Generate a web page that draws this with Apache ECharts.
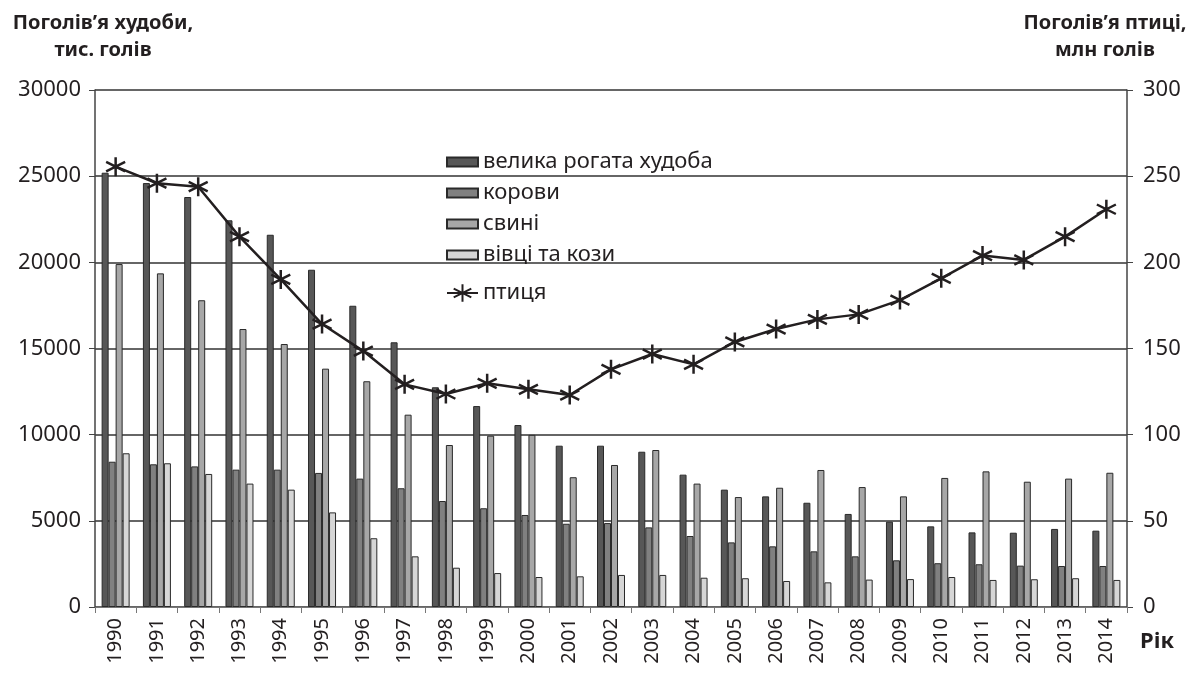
<!DOCTYPE html>
<html>
<head>
<meta charset="utf-8">
<title>Поголів'я худоби та птиці</title>
<script src="https://cdn.jsdelivr.net/npm/echarts@6/dist/echarts.min.js"></script>
<style>
  html, body { margin: 0; padding: 0; background: #fff; }
  #chart { width: 1193px; height: 675px; }
</style>
</head>
<body>
<div id="chart"></div>
<script>
// роки
const years = ['1990', '1991', '1992', '1993', '1994', '1995', '1996', '1997', '1998', '1999',
  '2000', '2001', '2002', '2003', '2004', '2005', '2006', '2007', '2008', '2009',
  '2010', '2011', '2012', '2013', '2014'];

// тис. голів
const cattle = [25200, 24600, 23790, 22440, 21600, 19570, 17480, 15360, 12750, 11660,
  10560, 9360, 9360, 9010, 7680, 6810, 6420, 6050, 5400, 4950,
  4680, 4330, 4310, 4530, 4430];
const cows = [8430, 8280, 8160, 7970, 7970, 7780, 7450, 6890, 6150, 5730,
  5340, 4830, 4870, 4620, 4120, 3750, 3520, 3230, 2940, 2710,
  2540, 2480, 2400, 2380, 2380];
const pigs = [19900, 19360, 17800, 16130, 15260, 13830, 13100, 11160, 9400, 9940,
  9990, 7530, 8240, 9110, 7160, 6380, 6920, 7950, 6960, 6420,
  7490, 7870, 7270, 7450, 7790];
const sheep = [8920, 8340, 7720, 7160, 6810, 5490, 3990, 2940, 2280, 1970,
  1740, 1780, 1860, 1860, 1700, 1670, 1510, 1430, 1590, 1620,
  1740, 1570, 1610, 1670, 1570];

// млн голів
const poultry = [255.5, 245.9, 243.9, 214.9, 190.1, 164.2, 148.5, 129.2, 123.6, 129.8,
  126.3, 123.0, 137.9, 146.8, 140.8, 153.8, 161.3, 166.9, 169.8, 178.1,
  190.7, 203.9, 201.4, 214.9, 230.8];

const leftTicks = { min: 0, max: 30000, interval: 5000 };
const rightTicks = { min: 0, max: 300, interval: 50 };

const FONT = 'Noto Sans';
const INK = '#231f20';
// зірочка як у Excel
const STAR = 'path://M10,0L10,20M1.34,5L18.66,15M1.34,15L18.66,5';

const barSeries = (name, data, color) => ({
  name,
  type: 'bar',
  data,
  barWidth: 7,
  barGap: '0%',
  itemStyle: { color, borderColor: '#2a2a2a', borderWidth: 1 },
});

const myChart = echarts.init(document.getElementById('chart'));

myChart.setOption({
  animation: false,
  textStyle: { fontFamily: FONT },
  grid: { left: 95, right: 66, top: 90, bottom: 68 },
  graphic: [
    {
      type: 'text', x: 103, y: 10,
      style: { text: 'Поголів’я худоби,\nтис. голів', font: 'bold 20px "Noto Sans"', fill: INK, lineHeight: 27, align: 'center' },
    },
    {
      type: 'text', x: 1105, y: 10,
      style: { text: 'Поголів’я птиці,\nмлн голів', font: 'bold 20px "Noto Sans"', fill: INK, lineHeight: 27, align: 'center' },
    },
    {
      type: 'text', x: 1140, y: 631,
      style: { text: 'Рік', font: 'bold 22px "Noto Sans"', fill: INK },
    },
  ],
  legend: [
    {
      orient: 'vertical',
      left: 441, top: 146,
      itemWidth: 31, itemHeight: 9, itemGap: 9,
      icon: 'rect',
      textStyle: { fontSize: 22, color: INK, fontFamily: FONT },
      data: ['велика рогата худоба', 'корови', 'свині', 'вівці та кози'],
    },
    {
      orient: 'vertical',
      left: 441, top: 277,
      itemWidth: 31, itemHeight: 22,
      textStyle: { fontSize: 22, color: INK, fontFamily: FONT },
      data: ['птиця'],
    },
  ],
  xAxis: {
    type: 'category',
    data: years,
    boundaryGap: true,
    axisLine: { lineStyle: { color: '#777', width: 1 } },
    axisTick: { show: true, length: 6, lineStyle: { color: '#777' } },
    axisLabel: { rotate: 90, fontSize: 20, color: INK, fontFamily: FONT, margin: 11, interval: 0 },
  },
  yAxis: [
    {
      type: 'value',
      ...leftTicks,
      axisLine: { show: true, lineStyle: { color: '#444', width: 1.5 } },
      axisTick: { show: true, length: 6, lineStyle: { color: '#444' } },
      axisLabel: { fontSize: 22, color: INK, fontFamily: FONT, margin: 14, formatter: (v) => String(v) },
      splitLine: { lineStyle: { color: '#333', width: 1.5 } },
    },
    {
      type: 'value',
      ...rightTicks,
      position: 'right',
      axisLine: { show: true, lineStyle: { color: '#444', width: 1.5 } },
      axisTick: { show: true, length: 6, lineStyle: { color: '#444' } },
      axisLabel: { fontSize: 22, color: INK, fontFamily: FONT, margin: 16, formatter: (v) => String(v) },
      splitLine: { show: false },
    },
  ],
  series: [
    barSeries('велика рогата худоба', cattle, '#575757'),
    barSeries('корови', cows, '#808080'),
    barSeries('свині', pigs, '#a7a7a7'),
    barSeries('вівці та кози', sheep, '#d6d6d6'),
    {
      name: 'птиця',
      type: 'line',
      yAxisIndex: 1,
      data: poultry,
      symbol: STAR,
      symbolSize: 19,
      lineStyle: { color: INK, width: 2.5 },
      itemStyle: { color: 'rgba(0,0,0,0)', borderColor: INK, borderWidth: 2.5 },
      z: 5,
    },
  ],
});
</script>
</body>
</html>
